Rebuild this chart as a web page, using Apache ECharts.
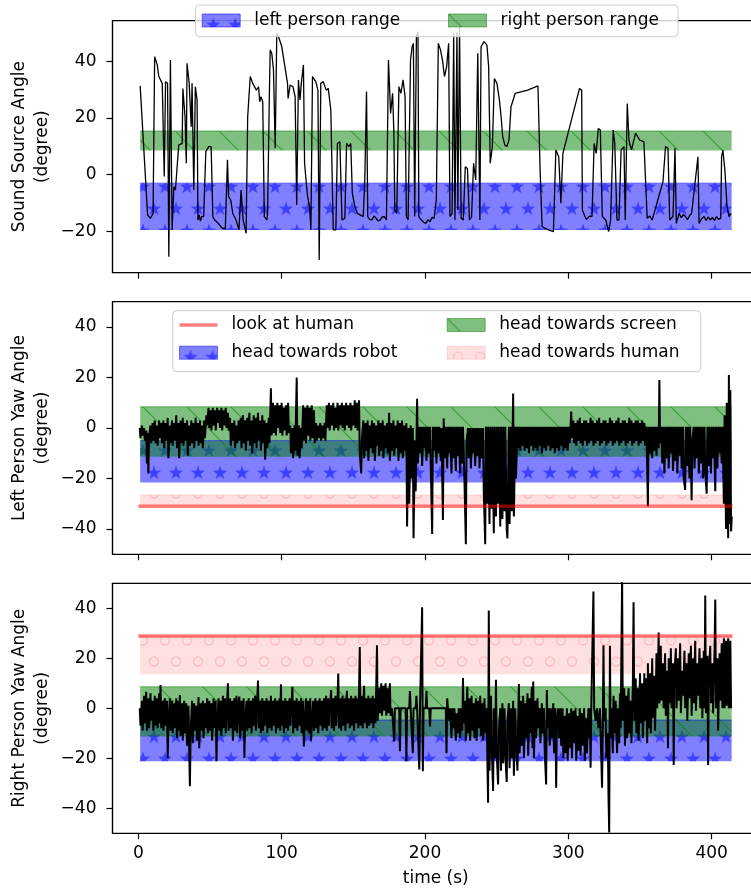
<!DOCTYPE html>
<html>
<head>
<meta charset="utf-8">
<script src="https://cdn.jsdelivr.net/npm/echarts@6/dist/echarts.min.js"></script>
<style>
  html, body { margin: 0; padding: 0; background: #fff; }
  #chart { width: 751px; height: 892px; }
</style>
</head>
<body>
<div id="chart"></div>
<script>
// time ticks shared by the three panels
const timeTicks = [0, 100, 200, 300, 400];
const soundTicks = [-20, 0, 20, 40];
const yawTicks = [-40, -20, 0, 20, 40];

// extent of the shaded ranges (s)
const rangeStart = 1.3;
const rangeEnd = 413.9;

// panel 1: sound source angle ranges [low, high]
const leftPersonRange = [-19.5, -3];
const rightPersonRange = [8.5, 15.4];

// panel 2: left person yaw ranges
const leftLookAtHuman = -31;
const leftTowardsRobot = [-21.6, -5];
const leftTowardsScreen = [-11.4, 8.4];
const leftTowardsHuman = [-31, -26.5];

// panel 3: right person yaw ranges
const rightLookAtHuman = 28.9;
const rightTowardsRobot = [-21.2, -4.7];
const rightTowardsScreen = [-11.3, 8.6];
const rightTowardsHuman = [13.6, 28.9];

// sound source angle trace [time, degree]
const soundAngle = [
  [1.3,31.3],[6.5,-14.3],[8.5,-15.4],[10.3,-13.7],[11.4,41.6],[13.2,38.7],[14.3,34.6],[16.7,32.2],[18.1,-0.7],[19,32.8],
  [20.4,32.2],[21.3,-29],[22.4,40.4],[23.6,-19.5],[24.8,-4.3],[25.9,-5.4],[28.2,10.4],[30.6,11],[31.1,30.4],[32.6,20.4],
  [33.5,4],[34,39.3],[35.5,32.2],[36.9,16.9],[37.5,32.2],[38.7,-5.4],[39.8,31],[41,26.3],[41.6,-16],[42.5,-14.2],[43.3,-16.4],[44.2,-14.8],
  [45.6,-14.8],[47.1,8.1],[49.1,9.9],[50.8,9.9],[52,-14.8],[53.2,-15.9],[54.3,-16],[55.8,-17.2],[58.7,-19],[60.7,-19],[62.2,5.2],
  [63,-7.8],[64.5,-9],[65.9,-13.7],[68.2,-16],[70.2,-19.5],[71.7,-5.4],[73.1,-16],[75.2,-20.7],[76.3,20.4],[77.5,19.9],
  [78.1,34.6],[79.8,32.2],[81,32.8],[82.4,29.8],[83.9,31],[84.7,25.7],[85.6,27.5],[86.8,25.7],[87.9,-14.8],[89.7,-16],
  [90.2,-13.7],[91.4,27.5],[92,44],[93.1,42.8],[94.3,36.9],[95.5,9.3],[96.6,49.8],[97.8,48.7],[100.1,45.1],[104.1,32.2],
  [104.5,26.9],[105.9,31.6],[107.9,31],[109.4,27.5],[110.5,-10.7],[111.7,33.4],[112.8,26.3],[113.7,32.2],[115.2,38.7],[116,4],
  [117.2,-3.1],[118.1,-7.8],[119.5,-11.3],[120.4,-19.5],[121.5,34.6],[123.8,32.8],[125.3,29.8],[126.2,-30.1],[127.3,32.2],[129,32.8],
  [131.1,29.8],[132.5,30.4],[134.3,22.8],[136,-19.5],[137.8,-19.5],[138.9,11],[140.6,11.6],[142.1,-16],[144.1,-15.4],[145.3,11],
  [147,9.9],[148.2,11],[149.3,-6.6],[151.1,-11.3],[152.8,-13.7],[155.1,-14.3],[156.9,-14.8],[158,-1.9],[159.2,29.3],[160.1,-14.8],
  [161.5,-15.9],[163,-16],[164.4,-14.6],[165.9,-15.4],[167.3,-16.3],[168.8,-16],[170.2,-14.9],[171.6,-14.8],[173.1,-16],[174.5,40.4],[176,21.6],[177.4,28.7],[178.3,14.6],[178.9,-12.5],
  [180.3,-13.7],[181.8,31],[183.2,28.7],[184.7,33.4],[186.1,27.5],[187,-14.8],[188.2,-16],[189.9,40.4],[191,45.1],[191.9,46.3],
  [192.8,-14.8],[194,48.7],[195.1,50.4],[195.7,-14.8],[196.7,-15.6],[197.7,-16],[199.1,-16.8],[200.6,-17.2],[202,-15.9],[203.5,-16.6],[204.9,-15.1],[206.4,-15.4],[207.9,-9],[209.3,46.3],
  [210.8,44],[212.2,40.4],[213.6,34.6],[215.1,38.1],[216.5,46.3],[217.4,-14.8],[218.9,-13.7],[220,49.8],[220.9,-16],[222.3,50.4],
  [222.9,-12.5],[224.1,52.2],[225.2,-15.4],[226.7,-16],[228.1,2.8],[229.6,2.2],[231,-16],[232.5,-14.8],[233.9,4],[235.4,-1.9],
  [236.8,42.8],[238.3,-16],[239.1,45.1],[241.2,46.9],[243.2,45.7],[244.4,38.1],[245.5,4],[247,9.9],[248.4,33.9],[250.2,32.2],
  [251.9,26.3],[253.1,20.4],[254.2,13.4],[255.7,10.4],[257.1,9.9],[258.6,12.2],[260,24],[261.5,26.3],[262.9,28.7],[271.6,29.8],
  [278.8,31.3],[280.3,1.6],[281.7,-18.4],[286.1,-19.5],[289.6,-20.1],[291.3,8.7],[293.3,6.3],[294.8,-10.1],[296.2,7.5],[307.8,30.4],
  [309.3,29.8],[309.8,-12.5],[311.6,-14.8],[312.6,-15.8],[313.6,-16],[315,-14.6],[316.5,-14.8],[318,11],[319.4,7.5],[320.9,16.3],[322.3,15.7],[323.7,-14.8],
  [326.1,-16],[328.1,-20.1],[329.5,-16],[331.3,15.7],[332.4,11],[333.9,-16],[335.3,-16],[336.8,8.7],[338.8,9.9],[339.7,-16],
  [341.1,25.1],[342.3,12.2],[344,8.7],[346.9,14.6],[349.8,12.2],[352.7,11.6],[355,-15.4],[356.8,-14.6],[358.5,-16],[366,-2.5],[367.8,9.9],
  [369.5,9.3],[370.7,-16],[373,-14.8],[374.4,9.3],[375.3,-17.2],[377.3,-13.7],[378.8,-15.2],[380.2,-14.1],[381.7,-14.8],[383.1,-15.9],[384.6,-14.4],[386,-13.7],[390.4,6.3],[391.2,-17.2],
  [392.9,-15.6],[394.7,-14.8],[396.1,-16.2],[397.5,-14.9],[399,-16],[400.5,-15.1],[401.9,-16.2],[403.4,-14.8],[404.8,-15.8],[406.3,-15.4],[406.9,6.3],[407.8,8.7],[409.2,1.6],[410.7,-11.3],[412.1,-14.8],[413.5,-13.7]
];

// left person yaw trace [time, degree]
const leftYaw = [
  [1,0],[1.5,-4],[2.5,1],[3,-3],[4,0],[4.5,-5],[5.5,-1],[6,-14],[6.5,-2],[7,-18],[7.5,-3],[8.5,1],[9,-6],[10,2],[10.5,-5],[11.5,3],[12,-6],[13,1],[13.5,-7],[14.5,3],
  [15,-4],[16,2],[16.5,-6],[17.5,3],[18,-8],[19,2],[19.5,-5],[20.5,4],[21,-12],[22,1],[22.5,-6],[23.5,3],[24,-7],[25,2],[25.5,-5],[26.5,5],[27,-8],[28,2],[28.5,-12],[29.5,3],
  [30,-6],[31,4],[31.5,-7],[32.5,2],[33,-5],[34,3],[34.5,-11],[35.5,1],[36,-7],[37,3],[37.5,-6],[38.5,2],[39,-8],[40,4],[40.5,-5],[41.5,2],[42,-7],[43,3],[43.5,-6],[44.5,1],
  [45,-8],[46,3],[46.5,-4],[47.5,5],[48,1],[49,8],[49.5,0],[50.5,7],[51,-1],[52,8],[52.5,1],[53.5,7],[54,-1],[55,8],[55.5,2],[56.5,7],[57,0],[58,8],[58.5,-1],[59.5,7],
  [60,1],[61,8],[61.5,0],[62.5,6],[63,-1],[64,4],[64.5,-7],[65.5,2],[66,-5],[67,3],[67.5,-8],[68.5,1],[69,-6],[70,3],[70.5,-5],[71.5,4],[72,-8],[73,5],[73.5,-6],[74.5,3],
  [75,-9],[76,4],[76.5,-5],[77.5,6],[78,-7],[79,3],[79.5,-10],[80.5,5],[81,-6],[82,4],[82.5,-8],[83.5,6],[84,-5],[85,3],[85.5,-9],[86.5,5],[87,-6],[88,3],[88.5,-12.6],[89.5,2],
  [90,-8],[91,4],[91.5,-6],[92.5,15.7],[93,-3],[94,10],[94.5,-2],[95.5,9],[96,-3],[97,10],[97.5,0],[98.5,9],[99,-2],[100,10],[100.5,-3],[101.5,8],[102,-1],[103,9],[103.5,-3],[104.5,10],
  [105,-2],[106,1],[106.5,-10],[107.5,0],[108,-12],[109,1],[109.5,-9],[110.5,20],[111,-11],[112,1],[112.5,-12],[113.5,0],[114,-8],[115,9],[115.5,-5],[116.5,8],[117,-6],[118,9],[118.5,-3],[119.5,8],
  [120,-5],[121,9],[121.5,-4],[122.5,7],[123,-6],[124,2],[124.5,-5],[125.5,1],[126,-4],[127,2],[127.5,-5],[128.5,1],[129,-4],[130,2],[130.5,-5],[131.5,9],[132,0],[133,10],[133.5,-1],[134.5,9],
  [135,1],[136,10],[136.5,-1],[137.5,8],[138,0],[139,10],[139.5,-1],[140.5,9],[141,1],[142,10],[142.5,0],[143.5,9],[144,-1],[145,10],[145.5,1],[146.5,9],[147,0],[148,10],[148.5,-1],[149.5,9],
  [150,1],[151,11],[151.5,0],[152.5,10],[153,-1],[154,11],[154.5,-10],[155.5,-18],[156,-4],[157,3],[157.5,-12],[158.5,2],[159,-9],[160,3],[160.5,-13],[161.5,1],[162,-8],[163,3],[163.5,-10],[164.5,2],
  [165,-13],[166,1],[166.5,-7],[167.5,3],[168,-11],[169,2],[169.5,-9],[170.5,3],[171,-12],[172,1],[172.5,-8],[173.5,2],[174,-10],[175,6],[175.5,-13],[176.5,2],[177,-9],[178,3],[178.5,-11],[179.5,1],
  [180,-8],[181,3],[181.5,-13],[182.5,2],[183,-10],[184,3],[184.5,-12],[185.5,1],[186,-9],[187,2],[187.5,-39],[188.5,0],[189,-30],[190,1],[190.5,-20],[191.5,0],[192,-43.6],[193,-5],[193.5,-25],[194.5,11.6],
  [195,-14],[196,0.5],[196.5,-10],[197.5,0.5],[198,-15],[199,0.5],[199.5,-8],[200.5,0.5],[201,-13],[202,0.5],[202.5,-10],[203.5,0.5],[204,-15],[205,-42],[205.5,0.5],[206.5,-9],[207,0.5],[208,-14],[208.5,0.5],[209.5,-10],
  [210,0.5],[211,-13],[211.5,0],[212.5,-36.4],[213,3.8],[214,-12],[214.5,0.5],[215.5,-16],[216,0.5],[217,-10],[217.5,0.5],[218.5,-18],[219,0.5],[220,-12],[220.5,0.5],[221.5,-17],[222,0.5],[223,-11],[223.5,0.5],[224.5,-18],
  [225,0.5],[226,-14],[226.5,0.5],[227.5,-20],[228.5,-46],[229,-5],[230,0],[230.5,-12],[231.5,0],[232,-16],[233,0],[233.5,-10],[234.5,0],[235,-15],[236,0],[236.5,-11],[237.5,0],[238,-16],[239,0],[239.5,-12],
  [240.5,0],[241,-25],[242,-46],[242.5,0.5],[243.5,-30],[244,0.5],[245,-38],[245.5,0.5],[246.5,-32],[247,0.5],[248,-41.7],[248.5,0.5],[249.5,-35],[250,0.5],[251,-30],[251.5,0.5],[252.5,-39],[253,0.5],[254,-36],[254.5,0.5],
  [255.5,-33],[256,0.5],[257,-40],[257.5,-43.7],[258.5,0.5],[259,-38],[260,0.5],[260.5,-33],[261.5,13.7],[262,-35],[263,0.5],[263.5,-20],[264.5,0.5],[265,-8],[266,0.5],[266.5,-9],[267.5,0.5],[268,-7],[269,0.5],[269.5,-9],
  [270.5,0.5],[271,-8],[272,0.5],[272.5,-10],[273.5,0.5],[274,-7],[275,0.5],[275.5,-9],[276.5,0.5],[277,-8],[278,0.5],[278.5,-9],[279.5,0.5],[280,-7],[281,0.5],[281.5,-10],[282.5,0.5],[283,-8],[284,0.5],[284.5,-9],
  [285.5,0.5],[286,-7],[287,0.5],[287.5,-9],[288.5,0.5],[289,-8],[290,0.5],[290.5,-10],[291.5,0.5],[292,-8],[293,0.5],[293.5,-9],[294.5,0.5],[295,-7],[296,0.5],[296.5,-9],[297.5,0.5],[298,-8],[299,0.5],[299.5,-9],
  [300.5,0.5],[301,-6],[302,6.5],[302.5,-4],[303.5,3],[304,-6],[305,2],[305.5,-7],[306.5,3],[307,-5],[308,4],[308.5,-6],[309.5,2],[310,-7],[311,3],[311.5,-5],[312.5,3],[313,-7],[314,2],[314.5,-6],
  [315.5,4],[316,-5],[317,3],[317.5,-7],[318.5,2],[319,-6],[320,3],[320.5,-5],[321.5,4],[322,-7],[323,2],[323.5,-6],[324.5,3],[325,-5],[326,3],[326.5,-7],[327.5,2],[328,-6],[329,4],[329.5,-5],
  [330.5,3],[331,-7],[332,2],[332.5,-6],[333.5,3],[334,-5],[335,4],[335.5,-7],[336.5,2],[337,-6],[338,3],[338.5,-5],[339.5,3],[340,-7],[341,2],[341.5,-6],[342.5,4],[343,-5],[344,3],[344.5,-7],
  [345.5,2],[346,-6],[347,3],[347.5,-5],[348.5,3],[349,-7],[350,2],[350.5,-6],[351.5,3],[352,-5],[353,2],[353.5,-7],[354.5,0.5],[355.5,-31],[356,0.5],[357,-10],[357.5,0.5],[358.5,-12],[359,0.5],[360,-9],
  [360.5,0.5],[361.5,-11],[362,0.5],[363,-8],[363.5,19],[364,-6],[365,0.5],[365.5,-14],[366.5,0.5],[367,-18],[368,0.5],[368.5,-12],[369.5,0.5],[370,-16],[371,0.5],[371.5,-10],[372.5,0.5],[373,-17],[374,0.5],[374.5,-13],
  [375.5,0.5],[376,-18],[377,0.5],[377.5,-11],[378.5,0.5],[379,-16],[380,0.5],[380.5,-20],[381.5,-24.5],[382,0.5],[383,-15],[383.5,0.5],[384.5,-20],[385,0.5],[386,-28.6],[386.5,-5],[387.5,0.5],[388,-16],[389,0.5],[389.5,-12],
  [390.5,0.5],[391,-18],[392,0.5],[392.5,-14],[393.5,0.5],[394,-20],[395,0.5],[395.5,-17],[396.5,-26],[397,0.5],[398,-15],[398.5,0.5],[399.5,-18],[400,0.5],[401,-12],[401.5,0.5],[402.5,-25],[403,0.5],[404,-16],[404.5,0.5],
  [405.5,-10],[406,0.5],[407,-14],[407.5,0.5],[408.5,-30],[409,5],[410,-40],[410.5,10],[411.5,-43.6],[412,21],[412.5,-38],[413,15],[413.5,-41],[414,-35]
];

// right person yaw trace [time, degree]
const rightYaw = [
  [1,0],[1.5,-7],[2.5,3],[3,-9],[4,5],[4.5,-6],[5.5,6.6],[6,-9],[7,4],[7.5,-8],[8.5,6],[9,-5],[10,3],[10.5,-9],[11.5,5],[12,-7],[13,4],[13.5,-8],[14.5,6],[15,-6],
  [15.5,9.3],[16,-8],[17,3],[17.5,-9],[18.5,4],[19,-7],[20,3],[20.5,-19.9],[21,-6],[22,4],[22.5,-9],[23.5,3],[24,-10],[25,2],[25.5,-8],[26.5,4],[27,-12],[28,3],[28.5,-9],[29,5.3],
  [29.5,-11],[30.5,2],[31,-13],[32,3],[32.5,-10],[33.5,2],[34,-15],[35,1],[35.5,-17],[36,-31.2],[36.5,-10],[37.5,3],[38,-14],[39,2],[39.5,-9],[40.5,1],[41,-13],[42,4.5],[42.5,-16],[43.5,2],
  [44,-9],[45,3],[45.5,-12],[46.5,2],[47,-8],[48,4],[48.5,-10],[49.5,3],[50,-9],[51,2],[51.5,-13],[52.5,4],[53,-8],[54,3],[54.5,-21.2],[55,-7],[56,4],[56.5,-9],[57.5,3],[58,-11],
  [59,5],[59.5,-8],[60.5,4],[61,-10],[62,3],[62.5,10],[63,-9],[64,4],[64.5,-8],[65.5,3],[66,-13],[67,4],[67.5,-9],[68.5,5],[69,-10],[70,3],[70.5,4.7],[71,-12],[72,3],[72.5,-9],
  [73.5,4],[74,-19.9],[74.5,-6],[75.5,3],[76,-9],[77,4],[77.5,-8],[78.5,3],[79,-10],[80,4],[80.5,-7],[81.5,5],[82,-9],[83,4],[83.5,11.1],[84,-8],[85,3],[85.5,-10],[86.5,4],[87,-9],
  [88,3],[88.5,-7],[89.5,4],[90,-10],[91,3],[91.5,-8],[92.5,5],[93,-9],[94,3],[94.5,-7],[95.5,4],[96,-10],[97,3],[97.5,-8],[98.5,4],[99,-9],[99.5,9.6],[100,-7],[101,3],[101.5,-10],
  [102.5,4],[103,-8],[104,3],[104.5,-9],[105.5,4],[106,-7],[107,3],[107.5,8.6],[108,-10],[109,3],[109.5,-8],[110.5,4],[111,-9],[112,3],[112.5,-7],[113.5,4],[114,-10],[115,3],[115.5,-15.3],[116,-8],
  [117,4],[117.5,-9],[118.5,3],[119,-10],[120,4],[120.5,-13],[121,-7],[122,3],[122.5,-9],[123.5,4],[124,-8],[125,3],[125.5,-10],[126.5,4],[127,-7],[128,3],[128.5,-9],[129.5,4],[130,-8],[131,5],
  [131.5,-9],[132.5,4],[133,-7],[134,3],[134.5,7.3],[135,-8],[136,4],[136.5,-9],[137.5,5],[138,-7],[139,4],[139.5,13.9],[140,-8],[141,4],[141.5,-9],[142.5,5],[143,-7],[144,4],[144.5,-9],[145.5,7],
  [146,-6],[147,4],[147.5,-8],[148.5,5],[149,-7],[150,4],[150.5,-9],[151.5,5],[152,-6],[153,4],[153.5,-8],[154.5,24.5],[155,-7],[156,5],[156.5,-8],[157.5,9],[158,-6],[159,4],[159.5,-8],[160.5,5],
  [161,-7],[162,4],[162.5,-6],[163.5,5],[164,-8],[165,4],[165.5,-6],[166.5,25.2],[167,-5],[168,8],[168.5,-2],[169.5,10],[170,-3],[171,9],[171.5,-1],[172.5,10],[173,-3],[174,8],[174.5,-2],[175.5,10],
  [176,-3],[177,0],[178,0],[178.5,-13.3],[179,0],[182,0],[182.5,-17.2],[183,0],[186.5,0],[187,-21.2],[187.5,0],[189,0],[189.5,6.9],[190,0],[191,0],[191.5,-18],[192,0],[193.5,0],[194,5],[194.5,0],
  [195.5,0],[196,-24.5],[196.5,0],[197.5,0],[198,40.4],[198.5,-25.2],[199,0],[200.5,0],[201,6.9],[201.5,0],[203,0],[203.5,-7.3],[204,0],[214.5,0],[215,-18],[215.5,4],[216,0],[217,-5],[217.5,0],[218.5,-12],
  [219,0],[220,-8],[220.5,0],[221.5,-13],[222,-2],[223,-10],[223.5,0],[224.5,-12],[225,0],[226,-9],[226.5,12.1],[227,-6],[228,3],[228.5,-13],[229.5,8.6],[230,-10],[231,4],[231.5,-13],[232.5,5],[233,-9],
  [234,2],[234.5,-12],[235.5,4],[236,-13],[237,3],[237.5,-8],[238.5,5],[239,-11],[240,2],[240.5,-13],[241.5,4],[242,-10],[243,0],[243.5,-20],[244,-37.8],[244.5,39.1],[245,-25],[246,5],[246.5,-15],[247.5,-33.1],
  [248,0],[249,-20],[249.5,11.4],[250,-18],[251,-30.5],[251.5,-10],[252.5,0],[253,-25],[254,2],[254.5,-22],[255.5,0],[256,-18],[257,-29.5],[257.5,-5],[258.5,2],[259,-24],[260,0],[260.5,-20],[261.5,3],[262,-27],
  [263,0],[263.5,-15],[264.5,-25],[265,-5],[265.5,9.7],[266,-18],[267,3],[267.5,-15],[268.5,5],[269,-20],[270,2],[270.5,-12],[271.5,6],[272,-19],[273,4],[273.5,-10],[274.5,8.6],[275,-16],[275.5,10.7],[276,-20],
  [277,3],[277.5,-12],[278.5,4],[279,-8],[280,0],[280.5,-14],[281.5,2],[282,-10],[283,0],[283.5,-17],[284.5,-30.5],[285,7.3],[285.5,-8],[286.5,0],[287,-15],[288,0],[288.5,-12],[289.5,2],[290,-18],[291,0],
  [291.5,-31.8],[292,-5],[293,0],[293.5,-12],[294.5,0],[295,-15],[296,0],[296.5,-20],[297.5,-3],[298,-18],[299,0],[299.5,-21],[300.5,-2],[301,-16],[302,0],[302.5,-20],[303.5,-1],[304,-14],[305,0],[305.5,-21],
  [306.5,-3],[307,-17],[308,0],[308.5,-19],[309.5,-2],[310,-15],[311,0],[311.5,-21],[312.5,-4],[313,-18],[314,0],[314.5,-12],[315,0],[315.5,-23.8],[316,0],[317,0],[317.5,46.7],[318,0],[319,-5],[320,0],
  [321,-8],[322,0],[323,-20],[323.5,-31.8],[324,-10],[324.5,25.2],[325,-5],[326,0],[326.5,-20],[327.5,-10],[328,-35],[328.5,-49.7],[329,25],[329.5,-12],[330,0],[331,-18],[331.5,5],[332.5,-10],[333,3],[334,-18],
  [334.5,0],[335.5,-14],[336,6],[336.5,-8],[337.5,52],[338,-5],[339,8],[339.5,-15],[340.5,5],[341,-12],[342,8],[342.5,-10],[343.5,3],[344,-14],[345,10],[345.5,42.4],[346,-5],[347,12],[347.5,-10],[348.5,8],
  [349,-13],[350,14],[350.5,-6],[351.5,10],[352,-12],[353,14],[353.5,-5],[354.5,12],[355,-14],[355.5,18],[356,-8],[357,14],[357.5,-10],[358.5,20],[359,-4],[360,13],[360.5,-9],[361.5,22],[362,0],[363,30.3],
  [363.5,2],[364.5,25],[365,3],[366,18],[366.5,0],[367.5,22],[368,-3],[369,15],[369.5,-16],[370,20],[371,2],[371.5,24],[372,0],[373,18],[373.5,-22.7],[374,14],[375,24],[375.5,0],[376.5,20],[377,3],
  [378,26],[378.5,-2],[379.5,15],[380,5],[381,23],[381.5,0],[382.5,18],[383,-5],[384,22],[384.5,4],[385.5,25],[386,-3],[387,20],[387.5,2],[388.5,27],[389,-1],[390,18],[390.5,5],[391.5,24],[392,0],
  [393,20],[393.5,-4],[394.5,23],[395,0],[395.5,45.1],[396,-2],[397,21],[397.5,-22.7],[398,15],[399,25],[399.5,2],[400.5,18],[401,-2],[402,24],[402.5,43.5],[403,0],[404,20],[404.5,-9],[405.5,22],[406,3],
  [407,26],[407.5,0],[408.5,28],[409,0],[410,27],[410.5,1],[411.5,28],[412,0],[413,27],[413.5,0]
];

const FONT = 'DejaVu Sans';

// hatch tiles, like matplotlib '*', '\\' and 'o'
function starPath(g, cx, cy, r) {
    g.beginPath();
    for (let i = 0; i < 10; i++) {
        const rr = i % 2 === 0 ? r : r * 0.4;
        const a = -Math.PI / 2 + i * Math.PI / 5;
        const x = cx + rr * Math.cos(a), y = cy + rr * Math.sin(a);
        if (i === 0) g.moveTo(x, y); else g.lineTo(x, y);
    }
    g.closePath();
    g.fill();
}
function starTile() {
    const c = document.createElement('canvas');
    c.width = 22; c.height = 44;
    const g = c.getContext('2d');
    g.fillStyle = 'rgba(0,0,255,0.5)';
    g.fillRect(0, 0, 22, 44);
    g.fillStyle = 'rgba(0,0,255,0.5)';
    starPath(g, 11, 11, 7.5);
    starPath(g, 0, 33, 7.5);
    starPath(g, 22, 33, 7.5);
    return { image: c, repeat: 'repeat' };
}
function slashTile() {
    const c = document.createElement('canvas');
    c.width = 44; c.height = 44;
    const g = c.getContext('2d');
    g.fillStyle = 'rgba(0,128,0,0.5)';
    g.fillRect(0, 0, 44, 44);
    g.strokeStyle = 'rgba(0,128,0,0.55)';
    g.lineWidth = 1.2;
    g.beginPath();
    g.moveTo(-2, -2); g.lineTo(46, 46);
    g.stroke();
    return { image: c, repeat: 'repeat' };
}
function circleTile() {
    const c = document.createElement('canvas');
    c.width = 22; c.height = 42;
    const g = c.getContext('2d');
    g.fillStyle = 'rgba(255,0,0,0.12)';
    g.fillRect(0, 0, 22, 42);
    g.strokeStyle = 'rgba(255,0,0,0.16)';
    g.lineWidth = 1.4;
    [[11, 10.5], [0, 31.5], [22, 31.5]].forEach(p => {
        g.beginPath();
        g.arc(p[0], p[1], 4.5, 0, Math.PI * 2);
        g.stroke();
    });
    return { image: c, repeat: 'repeat' };
}

const blueFill = starTile();
const greenFill = slashTile();
const pinkFill = circleTile();

const grids = [
    { left: 112.5, top: 20.7, width: 646.5, height: 252 },
    { left: 112.5, top: 301.7, width: 646.5, height: 252.6 },
    { left: 112.5, top: 583.3, width: 646.5, height: 250 }
].map(g => Object.assign(g, {
    show: true, borderColor: '#000', borderWidth: 1.2, backgroundColor: 'transparent',
    containLabel: false, outerBoundsMode: 'none'
}));

function minus(v) {
    return String(v).replace('-', '\u2212');
}

function xAxis(i) {
    return {
        type: 'value', gridIndex: i, min: -18, max: 433, position: 'bottom',
        axisLine: { show: true, onZero: false, lineStyle: { color: '#000', width: 1.2 } },
        splitLine: { show: false },
        axisTick: { show: true, inside: false, length: 6, customValues: timeTicks, lineStyle: { color: '#000', width: 1.2 } },
        axisLabel: { show: i === 2, customValues: timeTicks, margin: 12, fontSize: 17, fontFamily: FONT, color: '#000' },
        name: i === 2 ? 'time (s)' : '',
        nameLocation: 'middle', nameGap: 37, nameMoveOverlap: false,
        nameTextStyle: { fontSize: 17, fontFamily: FONT, color: '#000' }
    };
}
function yAxis(i, min, max, ticks, name) {
    return {
        type: 'value', gridIndex: i, min, max, position: 'left',
        axisLine: { show: true, onZero: false, lineStyle: { color: '#000', width: 1.2 } },
        splitLine: { show: false },
        axisTick: { show: true, inside: false, length: 6, customValues: ticks, lineStyle: { color: '#000', width: 1.2 } },
        axisLabel: { customValues: ticks, margin: 16, fontSize: 17, fontFamily: FONT, color: '#000', formatter: minus },
        name, nameLocation: 'middle', nameRotate: 90, nameGap: 58, nameMoveOverlap: false,
        nameTextStyle: { fontSize: 17, fontFamily: FONT, color: '#000', lineHeight: 23, align: 'center' }
    };
}

function trace(name, grid, data, width) {
    return {
        type: 'line', name, xAxisIndex: grid, yAxisIndex: grid, data,
        showSymbol: false, silent: true, z: 3.5,
        lineStyle: { color: '#000', width }
    };
}
function band(name, grid, range, fill, edge) {
    return {
        type: 'line', name, xAxisIndex: grid, yAxisIndex: grid,
        data: [[rangeStart, range[1]], [rangeEnd, range[1]]],
        showSymbol: false, silent: true, z: 3,
        itemStyle: { color: fill },
        lineStyle: { color: edge, width: 1 },
        areaStyle: { color: fill, origin: range[0], opacity: 1 }
    };
}
function lookLine(name, grid, value) {
    return {
        type: 'line', name, xAxisIndex: grid, yAxisIndex: grid,
        data: [[0, value], [414.5, value]],
        showSymbol: false, silent: true, z: 4,
        itemStyle: { color: 'rgba(255,0,0,0.5)' },
        lineStyle: { color: 'rgba(255,0,0,0.5)', width: 3.5 }
    };
}

const BLUE_EDGE = 'rgba(0,0,255,0.5)';
const GREEN_EDGE = 'rgba(0,128,0,0.5)';
const PINK_EDGE = 'rgba(255,0,0,0.12)';

function legendItem(name, left, centerY, color, border, h) {
    return {
        data: [{ name, icon: 'rect', itemStyle: { color, borderColor: border, borderWidth: 1 } }],
        left, top: centerY - 10, padding: 0,
        itemWidth: 38, itemHeight: h,
        selectedMode: false, z: 60,
        textStyle: { fontSize: 17, fontFamily: FONT, color: '#000', lineHeight: 20, padding: [0, 0, 0, 9] }
    };
}

const chart = echarts.init(document.getElementById('chart'), null, { renderer: 'canvas' });
chart.setOption({
    animation: false,
    backgroundColor: '#fff',
    grid: grids,
    xAxis: [xAxis(0), xAxis(1), xAxis(2)],
    yAxis: [
        yAxis(0, -34.6, 54.3, soundTicks, 'Sound Source Angle\n(degree)'),
        yAxis(1, -50, 50, yawTicks, 'Left Person Yaw Angle\n(degree)'),
        yAxis(2, -50, 50, yawTicks, 'Right Person Yaw Angle\n(degree)')
    ],
    graphic: [
        { type: 'rect', z: 50, shape: { x: 195.5, y: 5, width: 482.5, height: 31.7, r: 4 },
          style: { fill: 'rgba(255,255,255,0.8)', stroke: '#cccccc', lineWidth: 1 } },
        { type: 'rect', z: 50, shape: { x: 172.7, y: 310.7, width: 528, height: 61, r: 4 },
          style: { fill: 'rgba(255,255,255,0.8)', stroke: '#cccccc', lineWidth: 1 } }
    ],
    legend: [
        legendItem('left person range', 201.7, 20.5, blueFill, BLUE_EDGE, 13),
        legendItem('right person range', 448, 20.5, greenFill, GREEN_EDGE, 13),
        legendItem('look at human', 179, 325, 'rgba(255,0,0,0.5)', 'rgba(255,0,0,0)', 3.5),
        legendItem('head towards robot', 179, 352.7, blueFill, BLUE_EDGE, 13),
        legendItem('head towards screen', 446.7, 325, greenFill, GREEN_EDGE, 13),
        legendItem('head towards human', 446.7, 352.7, pinkFill, PINK_EDGE, 13)
    ],
    series: [
        trace('sound source', 0, soundAngle, 1.3),
        band('left person range', 0, leftPersonRange, blueFill, BLUE_EDGE),
        band('right person range', 0, rightPersonRange, greenFill, GREEN_EDGE),

        trace('left yaw', 1, leftYaw, 2),
        lookLine('look at human', 1, leftLookAtHuman),
        band('head towards robot', 1, leftTowardsRobot, blueFill, BLUE_EDGE),
        band('head towards screen', 1, leftTowardsScreen, greenFill, GREEN_EDGE),
        band('head towards human', 1, leftTowardsHuman, pinkFill, PINK_EDGE),

        trace('right yaw', 2, rightYaw, 2),
        lookLine('look at human', 2, rightLookAtHuman),
        band('head towards robot', 2, rightTowardsRobot, blueFill, BLUE_EDGE),
        band('head towards screen', 2, rightTowardsScreen, greenFill, GREEN_EDGE),
        band('head towards human', 2, rightTowardsHuman, pinkFill, PINK_EDGE)
    ]
});
</script>
</body>
</html>
